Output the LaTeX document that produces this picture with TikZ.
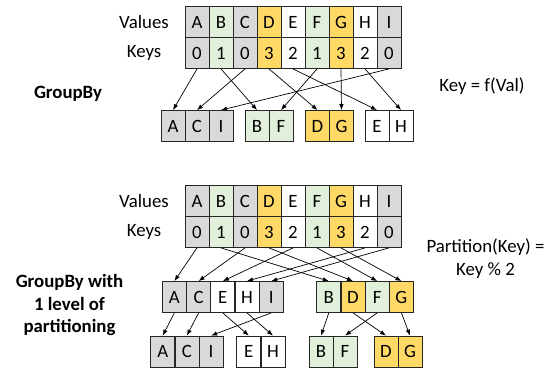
\documentclass[tikz,border=0pt]{standalone}
\usepackage{fontspec}
\setmainfont{Carlito}
\usetikzlibrary{arrows.meta}
\definecolor{cgr}{HTML}{D9D9D9}
\definecolor{cgn}{HTML}{E2EFDA}
\definecolor{cye}{HTML}{FFD966}
\definecolor{cwh}{HTML}{FFFFFF}
\tikzset{
  cell/.style={draw=black!85, line width=0.8pt, minimum width=24pt, minimum height=31pt, inner sep=0pt, font=\fontsize{18.8}{23}\selectfont},
  lbl/.style={font=\fontsize{18.8}{23}\selectfont, align=center, inner sep=0pt},
  blbl/.style={font=\fontsize{18.8}{22.5}\selectfont\bfseries, align=center, inner sep=0pt},
  arr/.style={line width=0.7pt, -{Latex[length=6pt,width=4.5pt]}}
}
\begin{document}
\begin{tikzpicture}[x=1pt,y=-1pt]
\useasboundingbox (0,0) rectangle (557,371);
% labels
\node[lbl] (val1) at (144,22) {Values};
\node[lbl] (key1) at (144,53) {Keys};
\node[lbl] (val2) at (144,201) {Values};
\node[lbl] (key2) at (144,232) {Keys};
\node[blbl] (gb1) at (68,94) {GroupBy};
\node[blbl] (gb2) at (69.5,305) {GroupBy with\\1 level of\\partitioning};
\node[lbl] (fn1) at (482,86) {Key = f(Val)};
\node[lbl] (fn2) at (485.5,258.5) {Partition(Key) =\\Key \% 2};
% tables
\foreach \v/\k/\c [count=\i] in {A/0/cgr,B/1/cgn,C/0/cgr,D/3/cye,E/2/cwh,F/1/cgn,G/3/cye,H/2/cwh,I/0/cgr} {
  \node[cell, fill=\c] (tv\v) at (173+24*\i,22) {\v};
  \node[cell, fill=\c] (tk\v) at (173+24*\i,53) {\k};
  \node[cell, fill=\c] (bv\v) at (173+24*\i,201) {\v};
  \node[cell, fill=\c] (bk\v) at (173+24*\i,232) {\k};
}
% top groups
\foreach \v/\x/\c in {A/173/cgr,C/197/cgr,I/221/cgr,B/257/cgn,F/281/cgn,D/317.5/cye,G/341.5/cye,E/377/cwh,H/401/cwh}
  \node[cell, fill=\c] (ga\v) at (\x,126) {\v};
\foreach \v in {A,B,C,D,E,F,G,H,I}
  \draw[arr] (tk\v.south) -- (ga\v.north);
% middle groups
\foreach \v/\x/\c in {A/174.4/cgr,C/198.6/cgr,E/222.8/cwh,H/247/cwh,I/271.2/cgr,B/328.8/cgn,D/353/cye,F/377.2/cgn,G/401.4/cye}
  \node[cell, fill=\c] (gm\v) at (\x,297) {\v};
\foreach \v in {A,B,C,D,E,F,G,H,I}
  \draw[arr] (bk\v.south) -- (gm\v.north);
% final groups
\foreach \v/\x/\c in {A/162.7/cgr,C/186.9/cgr,I/211.1/cgr,E/248.8/cwh,H/273/cwh,B/321/cgn,F/345/cgn,D/386/cye,G/410/cye}
  \node[cell, fill=\c] (gf\v) at (\x,351.5) {\v};
\foreach \v in {A,B,C,D,E,F,G,H,I}
  \draw[arr] (gm\v.south) -- (gf\v.north);
\end{tikzpicture}
\end{document}
